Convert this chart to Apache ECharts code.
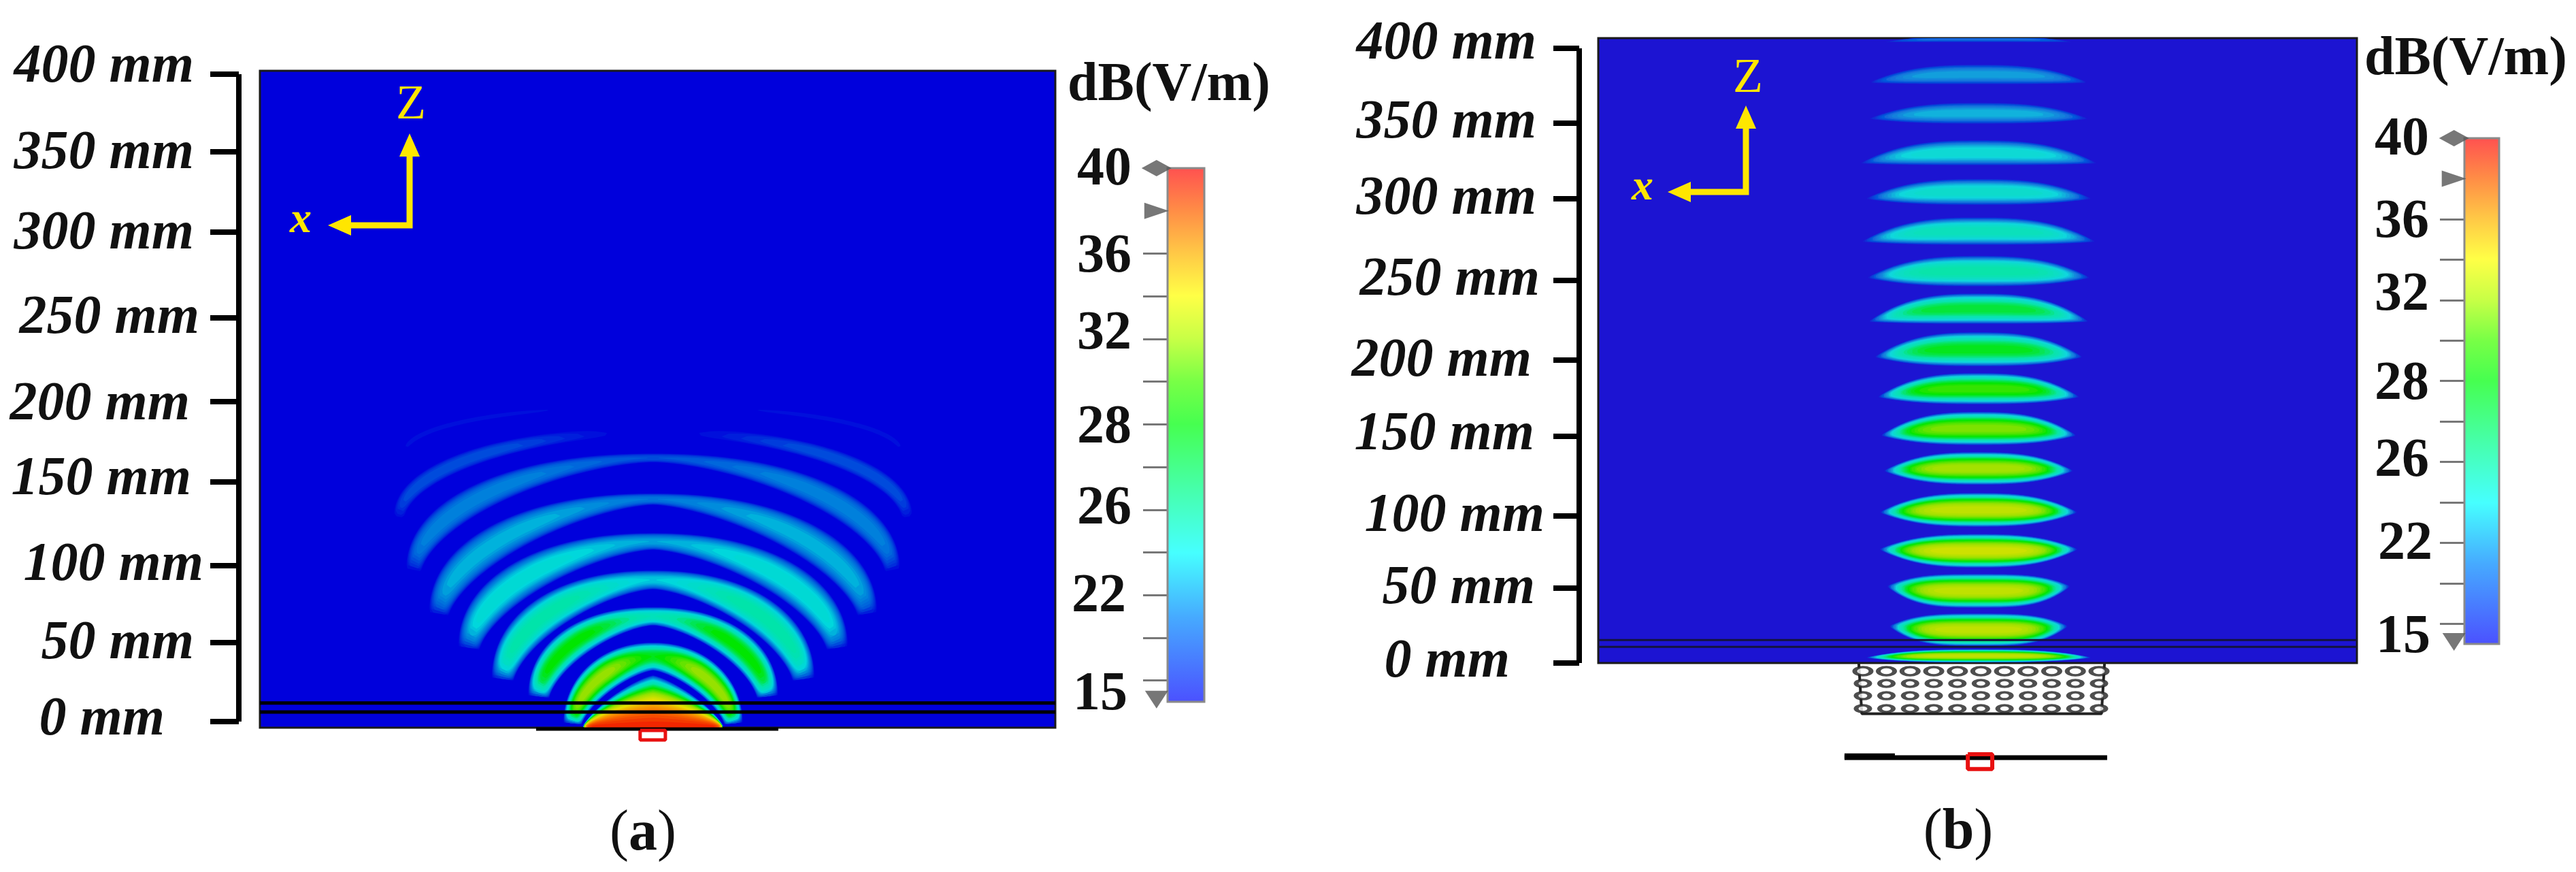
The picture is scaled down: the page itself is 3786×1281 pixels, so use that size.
<!DOCTYPE html>
<html>
<head>
<meta charset="utf-8">
<style>
  html, body { margin: 0; padding: 0; background: #fff; }
  #chart { width: 3786px; height: 1281px; }
</style>
<script src="https://cdn.jsdelivr.net/npm/echarts@6/dist/echarts.min.js"></script>
</head>
<body>
<div id="chart"></div>
<script>
// ---- ruler on the left of each panel, mm (ticks and labels are hand placed in the original)
const rulerTicksA = [400, 352, 302.4, 249.4, 197.7, 148, 96.3, 48.8, 0];
const rulerLabelAtA = [404, 350.7, 301, 249, 195.5, 149, 96, 48, 0.5];
const rulerTicksB = [400, 351.3, 302, 249, 197, 147.5, 95.7, 48.7, 0];
const rulerLabelAtB = [402.6, 351, 301.3, 249, 196.3, 148.3, 95.3, 48.3, 0.5];
const rulerLabels = ['400 mm', '350 mm', '300 mm', '250 mm', '200 mm', '150 mm', '100 mm', '50 mm', '0 mm'];

// ---- colour bar, dB
const barTicks = [36, 34, 32, 30, 28, 26, 24, 22, 20, 18, 16];
const barLabelAt = [39.9, 35.8, 32.2, 27.8, 24, 19.9, 15.3];
const barLabels = ['40', '36', '32', '28', '26', '22', '15'];
const barStopDb = [15, 19, 22, 25, 28, 30, 32, 34, 36, 38, 40];
const barStopColor = ['#4b50ff', '#46aaff', '#46ffff', '#46ffaa', '#46ff50', '#78ff46', '#c8ff46', '#ffff46', '#ffc846', '#ff8c46', '#ff5050'];

// ---- colours of the field itself, dB
const fieldStopDb = [15, 18, 20, 22, 25, 28, 31, 34, 37, 40];
const fieldStopRgb = [[0, 0, 220], [0, 90, 220], [0, 140, 220], [0, 215, 220], [0, 228, 170], [0, 230, 0], [150, 225, 0], [232, 225, 0], [250, 130, 0], [240, 20, 0]];

// ---- panel (a): arched wave fronts, mm, dB
const archTop = [28.6, 48.8, 70.7, 93.4, 116.5, 141, 165.7, 181.7, 196];
const archInnerTop = [-40, 31.5, 59.3, 81.6, 106, 133.8, 160, 176.7, 193.5];
const archWidth = [43, 55.5, 77.4, 100, 120.7, 138.8, 153, 160.7, 155.6];
const archInnerWidth = [43, 44, 64, 86, 107, 126, 143, 153.5, 151.4];
const archEnd = [-3, -2, 14.3, 24.8, 44, 65, 92, 125, 165.7];
const archRound = [1.3, 2.1, 2.2, 2.2, 2.2, 2.2, 2.2, 2.2, 2.2];
const archInnerRound = [1.3, 1.4, 1.5, 1.5, 1.5, 1.5, 1.6, 1.8, 2];
const archCrownDb = [40, 28, 24.5, 22, 21, 19.5, 18, 15, 15];
const archShoulderDb = [40, 31.5, 28.5, 25.5, 23, 21.5, 20, 18, 15.8];

// ---- panel (b): lens shaped lobes, mm, dB
const lobeTop = [408, 389.4, 364.6, 340.2, 315, 290, 265, 240.5, 215.3, 188.7, 163.5, 137.3, 110.7, 84, 58, 32.3, 8.9];
const lobeBottom = [404, 376.5, 350.8, 323.8, 298, 272, 245, 220.6, 193, 168.3, 141.8, 116, 88.6, 62, 35.9, 11, 0.4];
const lobeTip = [404, 377.4, 354, 325, 302, 274, 250.6, 222, 199, 173, 148, 125, 98, 74, 50, 24, 3.5];
const lobeHalfWidth = [62, 72, 72, 77.5, 74, 76.6, 73, 72, 68, 66, 64, 62, 64.7, 65, 60, 58.5, 74];
const lobeRound = [2.8, 2.8, 2.8, 2.8, 2.8, 2.8, 2.8, 2.8, 2.8, 2.8, 2.8, 2.8, 2.8, 2.8, 3.5, 3.5, 3];
const lobePeakDb = [19, 21, 21.5, 23, 23.5, 24.5, 25.5, 27.5, 28, 29.5, 31, 32, 33, 33.5, 33, 33, 33];

// ---- structures drawn on the panels, mm
const layersA = [11.4, 5.9];
const layersB = [15, 10.5];
const latticeX = [-75.3, -60, -44.6, -29.2, -13.8, 1.5, 16.9, 32.2, 47.6, 63, 78.4];
const latticeZ = [-5.3, -13.3, -21.3, -29.7];
const latticeBox = [[-78, 0], [-76, -33], [80, -33], [82, 0]];
const antennaA = [[-72.3, -4.6], [77.4, -4.6]];
const antennaB = [[-87.3, -61.6], [83.7, -61.6]];
const antennaStubB = [[-87.3, -60.6], [-54.5, -60.6]];
const feedA = [[-8, -5.5], [7.6, -5.5], [7.6, -11.4], [-8, -11.4], [-8, -5.5]];
const feedB = [[-7, -59.4], [8.9, -59.4], [8.9, -69], [-7, -69], [-7, -59.4]];

const SERIF = '"Liberation Serif", serif';
const BLUE_A = [0, 0, 220];
const BLUE_B = [28, 20, 210];

function fieldColor(db, low) {
  let stops = fieldStopRgb;
  let i = 0;
  while (i < fieldStopDb.length - 2 && db > fieldStopDb[i + 1]) {
    i++;
  }
  let t = Math.min(1, Math.max(0, (db - fieldStopDb[i]) / (fieldStopDb[i + 1] - fieldStopDb[i])));
  let a = i === 0 ? low : stops[i];
  let b = stops[i + 1];
  // the blue of the second panel tints its cold colours a little
  let r = a[0] + (b[0] - a[0]) * t + (i === 0 ? 0 : low[0] * Math.max(0, 1 - (db - 15) / 15));
  let g = a[1] + (b[1] - a[1]) * t;
  let bl = a[2] + (b[2] - a[2]) * t;
  return 'rgb(' + Math.round(Math.min(255, r)) + ',' + Math.round(g) + ',' + Math.round(bl) + ')';
}

// nested contour polygons of one band; sample(u) gives both edges and the level at u
function bandContours(api, sample, peak, low) {
  let children = [];
  let samples = [];
  for (let k = 0; k <= 120; k++) {
    samples.push(sample(-1 + k / 60));
  }
  for (let level = 15.5; level < peak; level += 0.5) {
    let run = [];
    let flush = function () {
      if (run.length > 1) {
        let upper = [];
        let lower = [];
        run.forEach(function (p) {
          let f = (level - 15) / (p.amp - 15);
          let s = Math.sqrt(Math.max(0, 1 - Math.pow(f, 1.4)));
          let mx = (p.ox + p.ix) / 2;
          let mz = (p.oz + p.iz) / 2;
          upper.push(api.coord([mx + s * (p.ox - mx), mz + s * (p.oz - mz)]));
          lower.unshift(api.coord([mx + s * (p.ix - mx), mz + s * (p.iz - mz)]));
        });
        children.push({
          type: 'polygon',
          silent: true,
          shape: { points: upper.concat(lower) },
          style: { fill: fieldColor(level, low) }
        });
      }
      run = [];
    };
    samples.forEach(function (p) {
      if (p.amp > level) {
        run.push(p);
      } else {
        flush();
      }
    });
    flush();
  }
  return children;
}

function renderArch(params, api) {
  let top = api.value(0);
  let inner = api.value(1);
  let w = api.value(2);
  let wi = api.value(3);
  let end = api.value(4);
  let crown = api.value(5);
  let shoulder = api.value(6);
  let round = api.value(7);
  let innerRound = api.value(8);
  let sample = function (u) {
    let th = u * Math.PI / 2;
    let sn = Math.abs(Math.sin(th));
    let cs = Math.abs(Math.cos(th));
    let sign = u < 0 ? -1 : 1;
    let au = Math.abs(u);
    let amp;
    if (au < 0.45) {
      let t = au / 0.45;
      amp = crown + (shoulder - crown) * t * t * (3 - 2 * t);
    } else {
      let t = (au - 0.45) / 0.55;
      amp = 15 + (shoulder - 15) * (1 - Math.pow(t, 7));
    }
    return {
      ox: w * sign * Math.pow(sn, 2 / round),
      oz: end + (top - end) * Math.pow(cs, 2 / round),
      ix: wi * sign * Math.pow(sn, 2 / innerRound),
      iz: end + (inner - end) * Math.pow(cs, 2 / innerRound),
      amp: amp
    };
  };
  return { type: 'group', children: bandContours(api, sample, Math.max(crown, shoulder), BLUE_A) };
}

function renderLobe(params, api) {
  let top = api.value(0);
  let bottom = api.value(1);
  let tip = api.value(2);
  let hw = api.value(3);
  let round = api.value(4);
  let peak = api.value(5);
  let sample = function (u) {
    let au = Math.abs(u);
    let bulge = 1 - Math.pow(au, round);
    return {
      ox: hw * u,
      oz: tip + (top - tip) * bulge,
      ix: hw * u,
      iz: tip + (bottom - tip) * bulge,
      amp: 15 + (peak - 15) * (1 - Math.pow(au, 5))
    };
  };
  return { type: 'group', children: bandContours(api, sample, peak, BLUE_B) };
}

function renderBar(params, api) {
  let lt = api.coord([0, 40]);
  let rb = api.coord([1, 15]);
  let stops = barStopDb.map(function (db, i) {
    return { offset: (40 - db) / 25, color: barStopColor[i] };
  }).reverse();
  return {
    type: 'rect',
    silent: true,
    shape: { x: lt[0], y: lt[1], width: rb[0] - lt[0], height: rb[1] - lt[1] },
    style: {
      fill: new echarts.graphic.LinearGradient(0, 0, 0, 1, stops),
      stroke: '#8a8a8a',
      lineWidth: 3
    }
  };
}

function line(axis, points, color, width) {
  return {
    type: 'line',
    xAxisIndex: axis,
    yAxisIndex: axis,
    data: points,
    showSymbol: false,
    silent: true,
    clip: false,
    z: 5,
    lineStyle: { color: color, width: width }
  };
}

// right padding per label, the original labels do not share one right edge
function paddedLabels(pads, style) {
  let rich = {};
  pads.forEach(function (pad, i) {
    rich['p' + i] = Object.assign({ padding: [0, pad, 0, 0] }, style);
  });
  return rich;
}

function rulerAxis(index, ticks, labelAt, pads, tickLen) {
  let style = { fontFamily: SERIF, fontSize: 80, fontWeight: 'bold', fontStyle: 'italic', color: '#111' };
  return {
    type: 'value',
    gridIndex: index,
    min: 0,
    max: 420,
    splitLine: { show: false },
    axisLine: { show: false },
    axisTick: { show: true, length: tickLen, customValues: ticks, lineStyle: { color: '#000', width: 8 } },
    axisLabel: {
      show: true,
      customValues: labelAt,
      margin: 51,
      rich: paddedLabels(pads, style),
      formatter: function (value) {
        let i = labelAt.indexOf(value);
        return '{p' + i + '|' + rulerLabels[i] + '}';
      }
    }
  };
}

function barAxis(index, pads, margin) {
  let style = { fontFamily: SERIF, fontSize: 80, fontWeight: 'bold', color: '#111' };
  return {
    type: 'value',
    gridIndex: index,
    min: 15,
    max: 40,
    splitLine: { show: false },
    axisLine: { show: false },
    axisTick: { show: true, length: 36, customValues: barTicks, lineStyle: { color: '#777', width: 3 } },
    axisLabel: {
      show: true,
      customValues: barLabelAt,
      margin: margin,
      rich: paddedLabels(pads, style),
      formatter: function (value) {
        let i = barLabelAt.indexOf(value);
        return '{p' + i + '|' + barLabels[i] + '}';
      }
    }
  };
}

function hiddenX(index, min, max) {
  return { type: 'value', gridIndex: index, min: min, max: max, show: false, splitLine: { show: false } };
}

function barSeries(axis) {
  return [{
    type: 'custom',
    xAxisIndex: axis,
    yAxisIndex: axis,
    silent: true,
    renderItem: renderBar,
    data: [[0, 40]]
  }, {
    type: 'scatter',
    xAxisIndex: axis,
    yAxisIndex: axis,
    silent: true,
    clip: false,
    data: [
      { value: [-0.3, 40], symbol: 'diamond', symbolSize: [44, 24] },
      { value: [-0.3, 38], symbol: 'triangle', symbolRotate: -90, symbolSize: [24, 36] },
      { value: [-0.3, 15.1], symbol: 'triangle', symbolRotate: 180, symbolSize: [34, 26] }
    ],
    itemStyle: { color: '#555' }
  }];
}

function latticeSeries(axis) {
  let rows = [];
  latticeZ.forEach(function (z, r) {
    latticeX.forEach(function (x) {
      rows.push({ value: [x, z], symbolSize: r === 0 ? [24, 12] : [20, 10] });
    });
  });
  return {
    type: 'scatter',
    xAxisIndex: axis,
    yAxisIndex: axis,
    silent: true,
    clip: false,
    z: 6,
    symbol: 'circle',
    data: rows,
    itemStyle: { color: '#fff', borderColor: '#222', borderWidth: 5 }
  };
}

function levelLines(axis, levels, xMin, xMax, color, width) {
  return levels.map(function (z) {
    return line(axis, [[xMin, z], [xMax, z]], color, width);
  });
}

// yellow z / x arrows, these are annotations of the figure and not data
function axesMark(cx, cy, top, left, zx, zy, xx, xy) {
  let yellow = '#ffe600';
  let shapes = [
    { type: 'polyline', shape: { points: [[cx, top + 25], [cx, cy], [left + 25, cy]] }, style: { stroke: yellow, lineWidth: 9, fill: null } },
    { type: 'polygon', shape: { points: [[cx, top], [cx - 15, top + 34], [cx + 15, top + 34]] }, style: { fill: yellow } },
    { type: 'polygon', shape: { points: [[left, cy], [left + 34, cy - 15], [left + 34, cy + 15]] }, style: { fill: yellow } },
    { type: 'text', x: zx, y: zy, style: { text: 'Z', fill: yellow, font: '72px ' + SERIF, align: 'center', verticalAlign: 'middle' } },
    { type: 'text', x: xx, y: xy, style: { text: 'x', fill: yellow, font: 'italic bold 64px ' + SERIF, align: 'center', verticalAlign: 'middle' } }
  ];
  return shapes;
}

function unitTitle(x, y) {
  return { type: 'text', x: x, y: y, style: { text: 'dB(V/m)', fill: '#111', font: 'bold 80px ' + SERIF, align: 'center', verticalAlign: 'middle' } };
}

function caption(x, y, letter) {
  return {
    type: 'text',
    x: x,
    y: y,
    style: {
      text: '{n|(}{b|' + letter + '}{n|)}',
      align: 'center',
      verticalAlign: 'middle',
      rich: {
        n: { font: '84px ' + SERIF, fill: '#111' },
        b: { font: 'bold 84px ' + SERIF, fill: '#111' }
      }
    }
  };
}

let archData = archTop.map(function (top, i) {
  return [top, archInnerTop[i], archWidth[i], archInnerWidth[i], archEnd[i], archCrownDb[i], archShoulderDb[i], archRound[i], archInnerRound[i]];
});
let lobeData = lobeTop.map(function (top, i) {
  return [top, lobeBottom[i], lobeTip[i], lobeHalfWidth[i], lobeRound[i], lobePeakDb[i]];
});

let xMinA = -243;
let xMaxA = 248.6;
let xMinB = -247.6;
let xMaxB = 246.3;

let option = {
  backgroundColor: '#fff',
  animation: false,
  grid: [
    // field, ruler and colour bar of (a), then the same of (b)
    { left: 382, top: 104, width: 1169, height: 965, show: true, backgroundColor: 'rgb(0,0,220)', borderColor: '#1a1a1a', borderWidth: 3 },
    { left: 351, top: 61.5, width: 4, height: 998.5 },
    { left: 1716, top: 247, width: 54, height: 784 },
    { left: 2349, top: 56, width: 1115, height: 918, show: true, backgroundColor: 'rgb(28,20,210)', borderColor: '#1a1a1a', borderWidth: 3 },
    { left: 2321, top: 25.8, width: 4, height: 948.2 },
    { left: 3622, top: 203, width: 51, height: 743 }
  ],
  xAxis: [
    hiddenX(0, xMinA, xMaxA), hiddenX(1, 0, 1), hiddenX(2, 0, 1),
    hiddenX(3, xMinB, xMaxB), hiddenX(4, 0, 1), hiddenX(5, 0, 1)
  ],
  yAxis: [
    { type: 'value', gridIndex: 0, min: -3.8, max: 402, show: false, splitLine: { show: false } },
    rulerAxis(1, rulerTicksA, rulerLabelAtA, [15, 15, 15, 7, 21, 19, 1, 15, 58], 42),
    barAxis(2, [0, 0, 0, 0, 0, 8, 6], 53),
    { type: 'value', gridIndex: 3, min: 0, max: 406.6, show: false, splitLine: { show: false } },
    rulerAxis(4, rulerTicksB, rulerLabelAtB, [12, 12, 12, 7, 19, 15, 0, 14, 51], 38),
    barAxis(5, [5, 5, 5, 5, 5, 0, 3], 47)
  ],
  series: [
    { type: 'custom', xAxisIndex: 0, yAxisIndex: 0, clip: true, silent: true, renderItem: renderArch, data: archData },
    { type: 'custom', xAxisIndex: 3, yAxisIndex: 3, clip: true, silent: true, renderItem: renderLobe, data: lobeData },
    line(1, [[0, 0], [0, 400]], '#000', 8),
    line(4, [[0, 0], [0, 400]], '#000', 8)
  ].concat(
    levelLines(0, layersA, xMinA, xMaxA, '#000', 5),
    levelLines(3, layersB, xMinB, xMaxB, '#14143c', 3),
    barSeries(2),
    barSeries(5),
    [
      latticeSeries(3),
      line(3, latticeBox, '#222', 4),
      line(0, antennaA, '#000', 5),
      line(3, antennaB, '#000', 7),
      line(3, antennaStubB, '#000', 8),
      line(0, feedA, '#e81010', 5),
      line(3, feedB, '#e81010', 6)
    ]
  ),
  graphic: [].concat(
    axesMark(602, 331, 196, 482, 604, 155, 442, 324),
    axesMark(2566, 282, 155, 2451, 2569, 116, 2414, 276),
    [
      unitTitle(1718, 126),
      unitTitle(3624, 88),
      caption(945, 1226, 'a'),
      caption(2878, 1224, 'b')
    ]
  )
};

let myChart = echarts.init(document.getElementById('chart'));
myChart.setOption(option);
</script>
</body>
</html>
